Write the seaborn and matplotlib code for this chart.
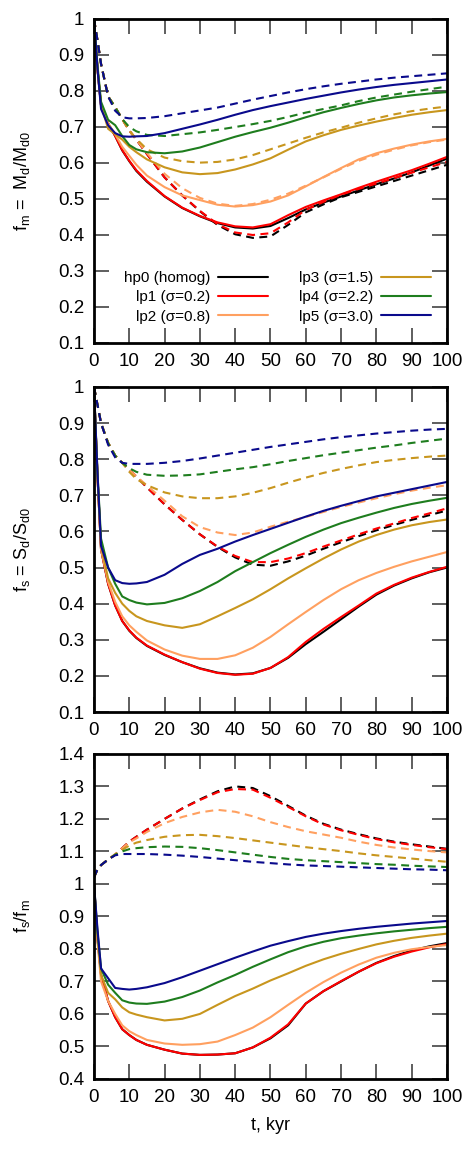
import numpy as np
import pandas as pd
import matplotlib
matplotlib.use('Agg')
import matplotlib.pyplot as plt
from matplotlib.lines import Line2D
from matplotlib.ticker import FormatStrFormatter
import seaborn as sns

# time grid, kyr
t_kyr = [0, 1, 2, 4, 6, 8, 10, 12, 15, 20, 25, 30, 35, 40, 45, 50, 55, 60, 65, 70, 75, 80, 85, 90, 95, 100]

models = ['hp0', 'lp1', 'lp2', 'lp3', 'lp4', 'lp5']
labels = ['hp0 (homog)', 'lp1 (σ=0.2)', 'lp2 (σ=0.8)', 'lp3 (σ=1.5)', 'lp4 (σ=2.2)', 'lp5 (σ=3.0)']
colors = ['#000000', '#ff0000', '#ffa060', '#c8961e', '#1e7d1e', '#0a0a8c']

# --- f_m = M_d/M_d0, solid
fm_hp0 = [1.0, 0.86, 0.76, 0.71, 0.675, 0.635, 0.605, 0.578, 0.548, 0.507, 0.475, 0.452, 0.433, 0.421, 0.418, 0.425, 0.447, 0.471, 0.49, 0.507, 0.524, 0.541, 0.557, 0.574, 0.593, 0.612]
fm_lp1 = [1.0, 0.86, 0.76, 0.71, 0.675, 0.636, 0.606, 0.58, 0.55, 0.508, 0.476, 0.453, 0.435, 0.424, 0.421, 0.43, 0.455, 0.478, 0.496, 0.513, 0.531, 0.548, 0.564, 0.58, 0.598, 0.617]
fm_lp2 = [1.0, 0.86, 0.76, 0.71, 0.68, 0.645, 0.62, 0.595, 0.565, 0.533, 0.51, 0.497, 0.484, 0.479, 0.483, 0.493, 0.51, 0.535, 0.561, 0.586, 0.61, 0.627, 0.64, 0.651, 0.66, 0.667]
fm_lp3 = [1.0, 0.86, 0.76, 0.695, 0.68, 0.665, 0.645, 0.63, 0.61, 0.588, 0.574, 0.569, 0.572, 0.582, 0.596, 0.613, 0.637, 0.66, 0.677, 0.692, 0.704, 0.715, 0.725, 0.734, 0.741, 0.747]
fm_lp4 = [1.0, 0.87, 0.77, 0.72, 0.705, 0.675, 0.65, 0.638, 0.63, 0.627, 0.632, 0.643, 0.658, 0.673, 0.686, 0.698, 0.712, 0.727, 0.741, 0.753, 0.764, 0.774, 0.782, 0.788, 0.793, 0.797]
fm_lp5 = [1.0, 0.86, 0.75, 0.705, 0.683, 0.674, 0.673, 0.674, 0.675, 0.683, 0.695, 0.707, 0.72, 0.734, 0.747, 0.758, 0.768, 0.778, 0.787, 0.796, 0.804, 0.811, 0.817, 0.822, 0.827, 0.832]
# --- f_m, dashed
fm_hp0_d = [1.0, 0.94, 0.875, 0.785, 0.755, 0.722, 0.69, 0.665, 0.625, 0.56, 0.51, 0.466, 0.428, 0.402, 0.392, 0.396, 0.428, 0.463, 0.485, 0.505, 0.52, 0.535, 0.55, 0.565, 0.58, 0.595]
fm_lp1_d = [1.0, 0.94, 0.875, 0.785, 0.755, 0.722, 0.69, 0.665, 0.625, 0.56, 0.51, 0.467, 0.43, 0.407, 0.4, 0.405, 0.435, 0.47, 0.492, 0.512, 0.528, 0.543, 0.558, 0.573, 0.588, 0.603]
fm_lp2_d = [1.0, 0.94, 0.875, 0.785, 0.755, 0.722, 0.69, 0.665, 0.628, 0.57, 0.53, 0.503, 0.487, 0.481, 0.486, 0.498, 0.515, 0.537, 0.56, 0.584, 0.606, 0.623, 0.637, 0.649, 0.658, 0.665]
fm_lp3_d = [1.0, 0.94, 0.875, 0.785, 0.755, 0.722, 0.69, 0.667, 0.638, 0.615, 0.605, 0.601, 0.603, 0.61, 0.622, 0.638, 0.654, 0.67, 0.685, 0.698, 0.712, 0.724, 0.735, 0.744, 0.751, 0.757]
fm_lp4_d = [1.0, 0.94, 0.875, 0.785, 0.755, 0.722, 0.7, 0.688, 0.678, 0.675, 0.68, 0.685, 0.692, 0.7, 0.708, 0.717, 0.728, 0.74, 0.75, 0.76, 0.772, 0.782, 0.79, 0.798, 0.805, 0.812]
fm_lp5_d = [1.0, 0.94, 0.875, 0.785, 0.745, 0.727, 0.724, 0.724, 0.725, 0.73, 0.738, 0.746, 0.754, 0.765, 0.776, 0.786, 0.796, 0.805, 0.813, 0.82, 0.826, 0.832, 0.837, 0.841, 0.845, 0.849]

# --- f_s = S_d/S_d0, solid
fs_hp0 = [1.0, 0.75, 0.55, 0.455, 0.395, 0.352, 0.325, 0.305, 0.283, 0.258, 0.238, 0.221, 0.209, 0.204, 0.207, 0.222, 0.25, 0.288, 0.322, 0.357, 0.392, 0.425, 0.45, 0.47, 0.487, 0.5]
fs_lp1 = [1.0, 0.75, 0.55, 0.455, 0.395, 0.352, 0.326, 0.306, 0.284, 0.259, 0.238, 0.22, 0.208, 0.203, 0.206, 0.222, 0.252, 0.294, 0.33, 0.363, 0.395, 0.428, 0.452, 0.472, 0.488, 0.502]
fs_lp2 = [1.0, 0.75, 0.55, 0.46, 0.405, 0.365, 0.34, 0.322, 0.298, 0.273, 0.256, 0.247, 0.247, 0.257, 0.278, 0.308, 0.343, 0.377, 0.41, 0.44, 0.465, 0.485, 0.502, 0.517, 0.53, 0.543]
fs_lp3 = [1.0, 0.75, 0.56, 0.47, 0.43, 0.4, 0.38, 0.365, 0.352, 0.34, 0.333, 0.343, 0.365, 0.388, 0.412, 0.44, 0.47, 0.498, 0.525, 0.55, 0.572, 0.59, 0.605, 0.617, 0.626, 0.633]
fs_lp4 = [1.0, 0.76, 0.58, 0.5, 0.455, 0.42, 0.41, 0.403, 0.398, 0.402, 0.415, 0.435, 0.46, 0.49, 0.515, 0.54, 0.563, 0.585, 0.605, 0.623, 0.638, 0.652, 0.665, 0.676, 0.685, 0.693]
fs_lp5 = [1.0, 0.76, 0.56, 0.5, 0.465, 0.457, 0.455, 0.456, 0.46, 0.48, 0.51, 0.535, 0.552, 0.572, 0.59, 0.607, 0.624, 0.641, 0.657, 0.671, 0.684, 0.697, 0.707, 0.717, 0.727, 0.737]
# --- f_s, dashed
fs_hp0_d = [1.0, 0.95, 0.9, 0.845, 0.81, 0.79, 0.77, 0.752, 0.722, 0.675, 0.632, 0.592, 0.557, 0.528, 0.508, 0.505, 0.517, 0.533, 0.552, 0.57, 0.587, 0.603, 0.618, 0.632, 0.645, 0.658]
fs_lp1_d = [1.0, 0.95, 0.9, 0.845, 0.81, 0.79, 0.77, 0.752, 0.722, 0.675, 0.632, 0.592, 0.558, 0.532, 0.515, 0.515, 0.525, 0.54, 0.558, 0.575, 0.592, 0.608, 0.622, 0.637, 0.65, 0.664]
fs_lp2_d = [1.0, 0.95, 0.9, 0.845, 0.81, 0.79, 0.77, 0.753, 0.727, 0.685, 0.642, 0.612, 0.597, 0.59, 0.597, 0.613, 0.627, 0.64, 0.654, 0.668, 0.68, 0.692, 0.703, 0.713, 0.721, 0.728]
fs_lp3_d = [1.0, 0.95, 0.9, 0.845, 0.81, 0.79, 0.765, 0.745, 0.728, 0.708, 0.697, 0.692, 0.692, 0.697, 0.707, 0.72, 0.735, 0.749, 0.762, 0.773, 0.783, 0.792, 0.798, 0.803, 0.807, 0.81]
fs_lp4_d = [1.0, 0.95, 0.9, 0.845, 0.81, 0.79, 0.775, 0.765, 0.757, 0.754, 0.755, 0.758, 0.765, 0.772, 0.778, 0.786, 0.795, 0.803, 0.811, 0.818, 0.825, 0.832, 0.838, 0.845, 0.851, 0.857]
fs_lp5_d = [1.0, 0.95, 0.9, 0.84, 0.805, 0.79, 0.787, 0.787, 0.787, 0.79, 0.795, 0.802, 0.81, 0.818, 0.826, 0.834, 0.841, 0.848, 0.855, 0.861, 0.866, 0.871, 0.875, 0.879, 0.882, 0.884]

# --- f_s/f_m, solid
fr_hp0 = [1.0, 0.83, 0.72, 0.64, 0.59, 0.553, 0.535, 0.52, 0.505, 0.49, 0.478, 0.474, 0.475, 0.479, 0.497, 0.525, 0.565, 0.632, 0.67, 0.7, 0.73, 0.757, 0.778, 0.795, 0.808, 0.818]
fr_lp1 = [1.0, 0.83, 0.72, 0.64, 0.59, 0.553, 0.535, 0.52, 0.505, 0.49, 0.478, 0.474, 0.475, 0.479, 0.497, 0.527, 0.568, 0.632, 0.67, 0.701, 0.73, 0.756, 0.776, 0.792, 0.805, 0.815]
fr_lp2 = [1.0, 0.82, 0.7, 0.64, 0.6, 0.565, 0.547, 0.535, 0.52, 0.509, 0.505, 0.507, 0.515, 0.535, 0.558, 0.59, 0.628, 0.665, 0.698, 0.727, 0.752, 0.773, 0.788, 0.799, 0.806, 0.812]
fr_lp3 = [1.0, 0.84, 0.72, 0.665, 0.645, 0.62, 0.605, 0.598, 0.59, 0.58, 0.585, 0.6, 0.628, 0.655, 0.678, 0.703, 0.725, 0.748, 0.768, 0.785, 0.8, 0.814, 0.825, 0.834, 0.841, 0.847]
fr_lp4 = [1.0, 0.85, 0.74, 0.69, 0.665, 0.642, 0.635, 0.632, 0.631, 0.638, 0.652, 0.672, 0.697, 0.72, 0.745, 0.768, 0.79, 0.808, 0.822, 0.833, 0.841, 0.848, 0.854, 0.859, 0.864, 0.868]
fr_lp5 = [1.0, 0.86, 0.74, 0.71, 0.68, 0.677, 0.675, 0.677, 0.682, 0.695, 0.713, 0.733, 0.753, 0.773, 0.792, 0.81, 0.824, 0.837, 0.847, 0.855, 0.862, 0.868, 0.873, 0.878, 0.882, 0.886]
# --- f_s/f_m, dashed
fr_hp0_d = [1.02, 1.045, 1.058, 1.075, 1.09, 1.11, 1.13, 1.145, 1.167, 1.2, 1.232, 1.26, 1.285, 1.3, 1.295, 1.27, 1.24, 1.21, 1.185, 1.167, 1.153, 1.14, 1.13, 1.122, 1.115, 1.108]
fr_lp1_d = [1.02, 1.045, 1.058, 1.075, 1.09, 1.11, 1.13, 1.145, 1.167, 1.2, 1.232, 1.258, 1.282, 1.292, 1.29, 1.265, 1.237, 1.208, 1.183, 1.165, 1.151, 1.138, 1.128, 1.12, 1.113, 1.107]
fr_lp2_d = [1.02, 1.045, 1.058, 1.075, 1.092, 1.11, 1.128, 1.14, 1.16, 1.187, 1.206, 1.22, 1.228, 1.222, 1.208, 1.19, 1.175, 1.162, 1.152, 1.142, 1.13, 1.12, 1.112, 1.106, 1.101, 1.097]
fr_lp3_d = [1.02, 1.045, 1.058, 1.075, 1.09, 1.105, 1.118, 1.127, 1.135, 1.145, 1.15, 1.151, 1.147, 1.141, 1.134, 1.127, 1.12, 1.113, 1.107, 1.101, 1.094, 1.088, 1.083, 1.078, 1.073, 1.068]
fr_lp4_d = [1.02, 1.045, 1.058, 1.075, 1.09, 1.1, 1.107, 1.11, 1.113, 1.115, 1.114, 1.11, 1.104, 1.097, 1.09, 1.083, 1.077, 1.073, 1.07, 1.067, 1.064, 1.061, 1.059, 1.056, 1.054, 1.052]
fr_lp5_d = [1.02, 1.045, 1.058, 1.075, 1.088, 1.092, 1.092, 1.092, 1.092, 1.09, 1.087, 1.083, 1.078, 1.073, 1.068, 1.064, 1.06, 1.057, 1.055, 1.053, 1.051, 1.049, 1.047, 1.045, 1.044, 1.042]


def long_frame(solid, dashed):
    rows = []
    for m, s, d in zip(models, solid, dashed):
        for kind, vals in (('solid', s), ('dashed', d)):
            for tt, v in zip(t_kyr, vals):
                rows.append((tt, v, m, kind))
    return pd.DataFrame(rows, columns=['t', 'v', 'model', 'kind'])


panels = [
    (long_frame([fm_hp0, fm_lp1, fm_lp2, fm_lp3, fm_lp4, fm_lp5],
                [fm_hp0_d, fm_lp1_d, fm_lp2_d, fm_lp3_d, fm_lp4_d, fm_lp5_d]),
     r'f$_m$ =  M$_d$/M$_{d0}$', (0.1, 1.0)),
    (long_frame([fs_hp0, fs_lp1, fs_lp2, fs_lp3, fs_lp4, fs_lp5],
                [fs_hp0_d, fs_lp1_d, fs_lp2_d, fs_lp3_d, fs_lp4_d, fs_lp5_d]),
     r'f$_s$ = S$_d$/S$_{d0}$', (0.1, 1.0)),
    (long_frame([fr_hp0, fr_lp1, fr_lp2, fr_lp3, fr_lp4, fr_lp5],
                [fr_hp0_d, fr_lp1_d, fr_lp2_d, fr_lp3_d, fr_lp4_d, fr_lp5_d]),
     r'f$_s$/f$_m$', (0.4, 1.4)),
]

sns.set_style('ticks')
plt.rcParams['font.family'] = ['Liberation Sans', 'DejaVu Sans']
plt.rcParams['mathtext.default'] = 'regular'
plt.rcParams.update({'text.color': 'black', 'axes.labelcolor': 'black',
                     'xtick.color': 'black', 'ytick.color': 'black',
                     'axes.edgecolor': 'black'})

fig = plt.figure(figsize=(4.63, 11.51), dpi=100)
rects = [[0.203, 0.702, 0.7624, 0.2815],
         [0.203, 0.3814, 0.7624, 0.2824],
         [0.203, 0.0626, 0.7624, 0.2824]]

palette = dict(zip(models, colors))
for i, ((df, ylab, ylim), rect) in enumerate(zip(panels, rects)):
    ax = fig.add_axes(rect)
    sns.lineplot(data=df, x='t', y='v', hue='model', style='kind',
                 hue_order=models, style_order=['solid', 'dashed'],
                 palette=palette, dashes={'solid': '', 'dashed': (3.8, 2.6)},
                 lw=1.5, errorbar=None, legend=False, ax=ax)
    ax.set_xlim(0, 100)
    ax.set_ylim(*ylim)
    ax.set_xticks(range(0, 101, 10))
    yt = np.round(np.arange(ylim[0], ylim[1] + 0.001, 0.1), 2)
    ax.set_yticks(yt)
    ax.yaxis.set_major_formatter(FormatStrFormatter('%g'))
    ax.tick_params(direction='in', length=10.5, width=1.1, color='#333333',
                   labelcolor='black', top=True, right=True, labelsize=13.5, pad=7)
    for sp in ax.spines.values():
        sp.set_linewidth(2)
        sp.set_color('black')
    ax.set_ylabel(ylab, fontsize=13)
    ax.yaxis.set_label_coords(-0.175, 0.5)
    ax.set_xlabel('t, kyr' if i == 2 else '', fontsize=13, labelpad=8)

    if i == 0:
        handles = [Line2D([], [], color=c, lw=1.5) for c in colors]
        ax.legend(handles, labels, ncol=2, markerfirst=False, frameon=False,
                  loc='lower right', bbox_to_anchor=(0.955, 0.06),
                  fontsize=11, handlelength=3.3, handletextpad=0.5,
                  columnspacing=2.0, labelspacing=0.35, borderpad=0,
                  borderaxespad=0)

fig.savefig('out.png', dpi=100)
